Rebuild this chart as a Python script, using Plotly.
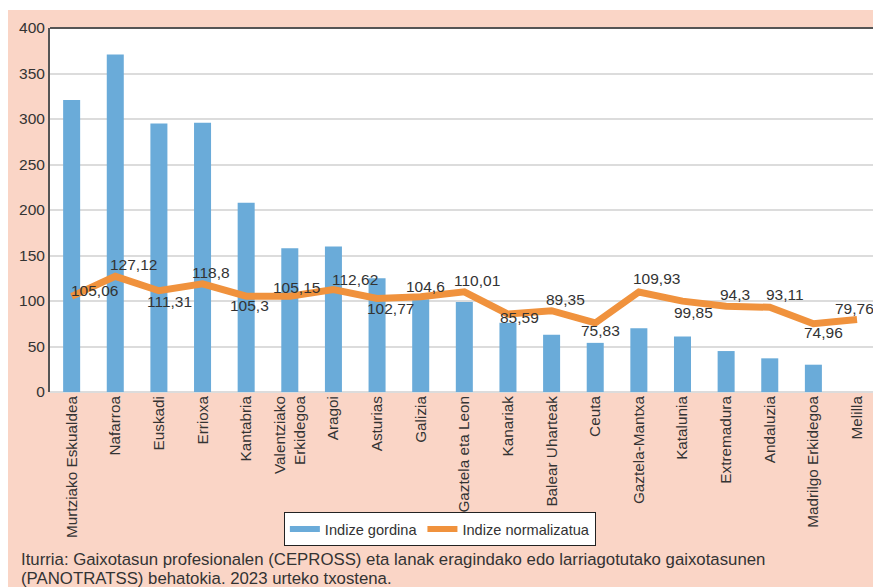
import plotly.graph_objects as go

categories = [
    "Murtziako Eskualdea", "Nafarroa", "Euskadi", "Errioxa", "Kantabria",
    "Valentziako<br>Erkidegoa", "Aragoi", "Asturias", "Galizia",
    "Gaztela eta Leon", "Kanariak", "Balear Uharteak", "Ceuta",
    "Gaztela-Mantxa", "Katalunia", "Extremadura", "Andaluzia",
    "Madrilgo Erkidegoa", "Melilla",
]
indize_gordina = [
    321, 371, 295, 296, 208, 158, 160, 125, 102, 99,
    76, 63, 54, 70, 61, 45, 37, 30, 0,
]
indize_normalizatua = [
    105.06, 127.12, 111.31, 118.8, 105.3, 105.15, 112.62, 102.77, 104.6,
    110.01, 85.59, 89.35, 75.83, 109.93, 99.85, 94.3, 93.11, 74.96, 79.76,
]
y_ticks = [0, 50, 100, 150, 200, 250, 300, 350, 400]
source_lines = [
    "Iturria: Gaixotasun profesionalen (CEPROSS) eta lanak eragindako edo larriagotutako gaixotasunen",
    "(PANOTRATSS) behatokia. 2023 urteko txostena.",
]

# pixel offsets of the value labels (dx, dy) relative to each point
label_shift = [
    (23, 6), (18, 12), (11, -11), (8, 11), (3, -9), (7, 9), (22, 10),
    (13, -10), (5, 10), (13, 11), (12, -3), (14, 11), (5, -8), (18, 13),
    (11, -11), (9, 12), (15, 13), (10, -9), (-3, 11),
]

BLUE = "#6aabd9"
ORANGE = "#f0923d"
SALMON = "#fad5c6"
TEXT = "#333333"
FONT = "Liberation Sans, Arial, sans-serif"

fig = go.Figure()

fig.add_trace(
    go.Bar(
        x=categories,
        y=indize_gordina,
        marker=dict(color=BLUE, line=dict(width=0)),
        showlegend=False,
    )
)
fig.add_trace(
    go.Scatter(
        x=categories,
        y=indize_normalizatua,
        mode="lines",
        line=dict(color=ORANGE, width=7),
        showlegend=False,
    )
)

# legend entries drawn as short thick lines
fig.add_trace(
    go.Scatter(
        x=[None], y=[None], mode="lines",
        line=dict(color=BLUE, width=6),
        name="Indize gordina",
    )
)
fig.add_trace(
    go.Scatter(
        x=[None], y=[None], mode="lines",
        line=dict(color=ORANGE, width=6),
        name="Indize normalizatua",
    )
)

for cat, val, (dx, dy) in zip(categories, indize_normalizatua, label_shift):
    fig.add_annotation(
        x=cat, y=val,
        text=f"{val:g}".replace(".", ","),
        showarrow=False,
        xanchor="center", yanchor="middle",
        xshift=dx, yshift=dy,
        font=dict(family=FONT, size=15.5, color=TEXT),
    )

for line_text, ypos in zip(source_lines, [-0.4588, -0.5137]):
    fig.add_annotation(
        xref="paper", yref="paper",
        x=-0.0366, y=ypos,
        xanchor="left", yanchor="middle", align="left",
        text=line_text,
        showarrow=False,
        borderpad=0,
        font=dict(family=FONT, size=16.8, color=TEXT),
    )

# thin white strip above the salmon panel
fig.add_shape(type="rect", xref="paper", yref="paper",
              x0=-0.06, x1=1.02, y0=1.0495, y1=1.06,
              fillcolor="white", line=dict(width=0), layer="below")
# top frame line
fig.add_shape(type="line", xref="paper", yref="paper",
              x0=0, x1=1, y0=1, y1=1,
              line=dict(color="#555555", width=2))

fig.update_layout(
    width=881,
    height=587,
    margin=dict(l=38, r=11, t=20, b=203),
    paper_bgcolor=SALMON,
    plot_bgcolor="white",
    bargap=0.61,
    font=dict(family=FONT, size=14, color=TEXT),
    legend=dict(
        orientation="h",
        x=0.472, y=-0.33,
        xanchor="center", yanchor="top",
        bgcolor="white",
        bordercolor="#222222",
        borderwidth=1,
        font=dict(family=FONT, size=14.6, color=TEXT),
    ),
    xaxis=dict(
        range=[-0.496, 18.435],
        tickangle=-90,
        tickfont=dict(family=FONT, size=15.3, color=TEXT),
        showline=False,
        ticks="",
        showgrid=False,
    ),
    yaxis=dict(
        range=[0, 400],
        tickvals=y_ticks,
        tickfont=dict(family=FONT, size=15.5, color=TEXT),
        showgrid=True,
        gridcolor="#dcdcdc",
        gridwidth=2,
        zeroline=True,
        zerolinecolor="#dcdcdc",
        zerolinewidth=2,
        showline=True,
        linecolor="#555555",
        linewidth=2,
        mirror=True,
        ticks="",
    ),
)

fig.write_html("out.html")
